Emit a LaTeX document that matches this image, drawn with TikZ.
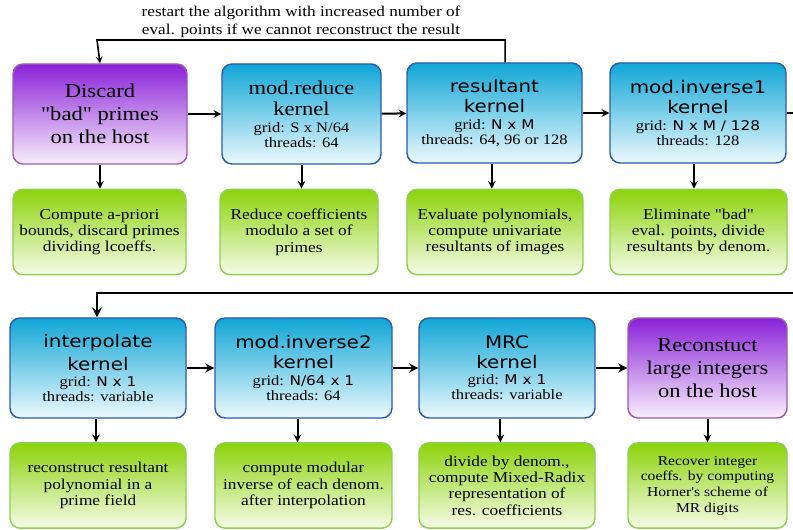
\documentclass[tikz,border=0pt]{standalone}
\usepackage{fontspec}
\setmainfont{Liberation Serif}[FakeStretch=1.15]
\newfontfamily\kernsans{DejaVu Sans}[FakeStretch=1.15]
\newfontfamily\plainserif{Liberation Serif}[FakeStretch=1.15]
\definecolor{kerneltop}{HTML}{10A6D6}
\definecolor{kernelbot}{HTML}{ECF9FD}
\definecolor{kernelline}{HTML}{2D5BA8}
\definecolor{hosttop}{HTML}{8A22D8}
\definecolor{hostbot}{HTML}{F8EEFB}
\definecolor{hostline}{HTML}{9C5AB0}
\definecolor{notetop}{HTML}{8CD30A}
\definecolor{notebot}{HTML}{F6FBE8}
\definecolor{noteline}{HTML}{8ED050}
\tikzset{
  box/.style={draw, rounded corners=7.5pt, line width=1.1pt, align=center, inner sep=2pt},
  kernelbox/.style={box, draw=kernelline, top color=kerneltop, bottom color=kernelbot,
    minimum height=75pt, font=\fontsize{10.8}{11.25}\selectfont},
  hostbox/.style={box, draw=hostline, top color=hosttop, bottom color=hostbot,
    minimum height=75pt, font=\fontsize{14.7}{17.25}\selectfont},
  notebox/.style={box, draw=noteline, top color=notetop, bottom color=notebot,
    minimum height=64pt, font=\fontsize{11.3}{12.25}\selectfont},
  flow/.style={->, line width=1.5pt},
  wrapline/.style={line width=2.2pt},
}
\newcommand{\ktitle}[1]{{\kernsans\fontsize{13}{15}\selectfont #1}}
\newcommand{\rtitle}[1]{{\fontsize{14.7}{17.25}\selectfont #1}}
\newcommand{\kdim}[1]{{\kernsans\fontsize{10}{11.25}\selectfont #1}}
\newcommand{\qbad}{{\plainserif"bad"}}
\begin{document}
\begin{tikzpicture}[x=0.75pt, y=-0.75pt, >=stealth]
  \useasboundingbox (0,0) rectangle (793,530);
  % first row: host step and kernels
  \node[hostbox, minimum width=130.5pt] (disc) at (100,114) {Discard\\\qbad{} primes\\on the host};
  \node[kernelbox, minimum width=119.25pt] (red) at (301.5,114)
    {\rtitle{mod.reduce}\\[5pt]\rtitle{kernel}\\[1pt]grid: S x N/64\\threads: 64};
  \node[kernelbox, minimum width=131.25pt] (res) at (494.5,113)
    {\ktitle{resultant}\\[3.75pt]\ktitle{kernel}\\[1pt]grid: \kdim{N x M}\\threads: 64, 96 or 128};
  \node[kernelbox, minimum width=132pt] (inv1) at (698,113)
    {\ktitle{mod.inverse1}\\[3.75pt]\ktitle{kernel}\\[1pt]grid: \kdim{N x M / 128}\\threads: 128};
  % first row: what each step does
  \node[notebox, minimum width=129.75pt] (disc-note) at (99.5,232)
    {Compute a-priori\\bounds, discard primes\\dividing lcoeffs.};
  \node[notebox, minimum width=118.5pt] (red-note) at (299,232)
    {Reduce coefficients\\modulo a set of\\primes};
  \node[notebox, minimum width=132pt] (res-note) at (495,232)
    {Evaluate polynomials,\\compute univariate\\resultants of images};
  \node[notebox, minimum width=132.75pt] (inv1-note) at (698.5,232)
    {Eliminate \qbad\\eval. points, divide\\resultants by denom.};
  % second row: kernels and host step
  \node[kernelbox, minimum width=132pt] (interp) at (98,368)
    {\ktitle{interpolate}\\[3.75pt]\ktitle{kernel}\\[1pt]grid: \kdim{N x 1}\\threads: variable};
  \node[kernelbox, minimum width=132.75pt] (inv2) at (303.5,368)
    {\ktitle{mod.inverse2}\\[3.75pt]\ktitle{kernel}\\[1pt]grid: \kdim{N/64 x 1}\\threads: 64};
  \node[kernelbox, minimum width=132pt] (mrc) at (507,368)
    {\ktitle{MRC}\\[3.75pt]\ktitle{kernel}\\[1pt]grid: \kdim{M x 1}\\threads: variable};
  \node[hostbox, minimum width=119.25pt] (recon) at (707.5,368)
    {Reconstuct\\large integers\\on the host};
  % second row: what each step does
  \node[notebox, minimum width=132pt] (interp-note) at (98,485.5)
    {reconstruct resultant\\polynomial in a\\prime field};
  \node[notebox, minimum width=132.75pt] (inv2-note) at (303.5,485.5)
    {compute modular\\inverse of each denom.\\after interpolation};
  \node[notebox, minimum width=132pt] (mrc-note) at (507,485.5)
    {divide by denom.,\\compute Mixed-Radix\\representation of\\res. coefficients};
  \node[notebox, minimum width=119.25pt, font=\fontsize{10.2}{11.75}\selectfont] (recon-note) at (707.5,485.5)
    {Recover integer\\coeffs. by computing\\Horner{\plainserif'}s scheme of\\MR digits};
  % horizontal flow
  \draw[flow] (disc) -- (red);
  \draw[flow] (red) -- (res);
  \draw[flow] (res) -- (inv1);
  \coordinate (edge-a) at (793,113);
  \coordinate (edge-b) at (793,293);
  \draw[line width=1.5pt] (inv1) -- (edge-a);
  \draw[wrapline, ->] (edge-b) -| ([xshift=-0.75pt]interp.north);
  \draw[flow, line width=2pt] (interp) -- (inv2);
  \draw[flow, line width=2pt] (inv2) -- (mrc);
  \draw[flow, line width=2pt] (mrc) -- (recon);
  % vertical flow
  \draw[flow] (disc.south) -- (disc.south |- disc-note.north);
  \draw[flow] (red.south) -- (red.south |- red-note.north);
  \draw[flow] ([xshift=-2pt]res.south) -- ([xshift=-2pt]res.south |- res-note.north);
  \draw[flow] ([xshift=-3pt]inv1.south) -- ([xshift=-3pt]inv1.south |- inv1-note.north);
  \draw[flow] ([xshift=-1.5pt]interp.south) -- ([xshift=-1.5pt]interp.south |- interp-note.north);
  \draw[flow] ([xshift=-4.5pt]inv2.south) -- ([xshift=-4.5pt]inv2.south |- inv2-note.north);
  \draw[flow] ([xshift=-5pt]mrc.south) -- ([xshift=-5pt]mrc.south |- mrc-note.north);
  \draw[flow] (recon.south) -- (recon.south |- recon-note.north);
  % restart loop
  \draw[->, line width=1.2pt] ([xshift=8pt]res.north) |- (97,40) coordinate (loop-corner) -- (disc.north);
  \node[font=\fontsize{11.2}{13}\selectfont, align=center] (restart) at (301,22)
    {restart the algorithm with increased number of\\eval. points if we cannot reconstruct the result};
\end{tikzpicture}
\end{document}
